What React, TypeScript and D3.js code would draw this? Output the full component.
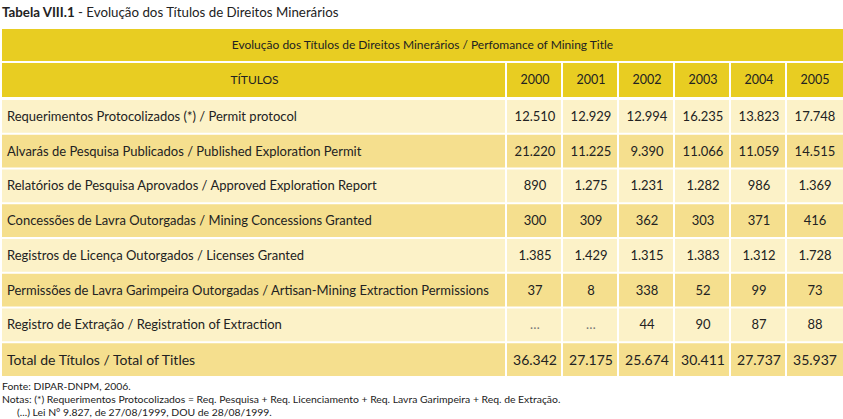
import React from "react";
import * as d3 from "d3";

const years = ["2000", "2001", "2002", "2003", "2004", "2005"];
const categories = [
  "Requerimentos Protocolizados (*) / Permit protocol",
  "Alvarás de Pesquisa Publicados / Published Exploration Permit",
  "Relatórios de Pesquisa Aprovados / Approved Exploration Report",
  "Concessões de Lavra Outorgadas / Mining Concessions Granted",
  "Registros de Licença Outorgados / Licenses Granted",
  "Permissões de Lavra Garimpeira Outorgadas / Artisan-Mining Extraction Permissions",
  "Registro de Extração / Registration of Extraction",
  "Total de Títulos / Total of Titles",
];
const permitProtocol = [12510, 12929, 12994, 16235, 13823, 17748];
const explorationPermit = [21220, 11225, 9390, 11066, 11059, 14515];
const explorationReport = [890, 1275, 1231, 1282, 986, 1369];
const miningConcessions = [300, 309, 362, 303, 371, 416];
const licenses = [1385, 1429, 1315, 1383, 1312, 1728];
const artisanPermissions = [37, 8, 338, 52, 99, 73];
const extraction = [null, null, 44, 90, 87, 88];
const totals = [36342, 27175, 25674, 30411, 27737, 35937];
const seriesRows = [
  permitProtocol,
  explorationPermit,
  explorationReport,
  miningConcessions,
  licenses,
  artisanPermissions,
  extraction,
  totals,
];

const titleBold = "Tabela VIII.1";
const titleRest = " - Evolução dos Títulos de Direitos Minerários";
const headerTitle = "Evolução dos Títulos de Direitos Minerários / Perfomance of Mining Title";
const headerFirst = "TÍTULOS";
const notes = [
  "Fonte: DIPAR-DNPM, 2006.",
  "Notas: (*) Requerimentos Protocolizados = Req. Pesquisa + Req. Licenciamento + Req. Lavra Garimpeira + Req. de Extração.",
  "(...) Lei N° 9.827, de 27/08/1999, DOU de 28/08/1999.",
];

const W = 843;
const H = 419;
const FONT = "Lato, 'Open Sans', sans-serif";
const HEAD = "#e8cd22";
const LIGHT = "#fcf2c8";
const DARK = "#f5df8e";

const locale = d3.formatLocale({
  decimal: ",",
  thousands: ".",
  grouping: [3],
  currency: ["R$", ""],
});
const fmt = locale.format(",d");

export default function App() {
  const left = 2;
  const right = W;
  const firstColRight = 507;
  const gap = 2;

  const x = d3.scaleBand<string>().domain(years).range([firstColRight, right]).paddingInner(0);
  const y = d3
    .scaleBand<string>()
    .domain(categories)
    .range([98, 376])
    .paddingInner(0);

  const head1 = { y0: 29, y1: 61 };
  const head2 = { y0: 63, y1: 97 };

  return (
    <svg
      width={W}
      height={H}
      style={{ position: "absolute", left: 0, top: 0, background: "#fff" }}
      fontFamily={FONT}
    >
      <text x={2} y={17} fontSize={13.3} fill="#222">
        <tspan fontWeight="bold">{titleBold}</tspan>
        <tspan>{titleRest}</tspan>
      </text>

      <rect x={left} y={head1.y0} width={right - left} height={head1.y1 - head1.y0} fill={HEAD} />
      <text
        x={(left + right) / 2}
        y={(head1.y0 + head1.y1) / 2}
        dy="0.35em"
        textAnchor="middle"
        fontSize={12}
        fill="#222"
      >
        {headerTitle}
      </text>

      <rect x={left} y={head2.y0} width={firstColRight - left - gap} height={head2.y1 - head2.y0} fill={HEAD} />
      <text
        x={(left + firstColRight) / 2}
        y={(head2.y0 + head2.y1) / 2}
        dy="0.35em"
        textAnchor="middle"
        fontSize={12}
        fill="#222"
      >
        {headerFirst}
      </text>
      {years.map((yr, j) => (
        <g key={yr}>
          <rect
            x={x(yr)!}
            y={head2.y0}
            width={x.bandwidth() - (j < years.length - 1 ? gap : 0)}
            height={head2.y1 - head2.y0}
            fill={HEAD}
          />
          <text
            x={x(yr)! + x.bandwidth() / 2}
            y={(head2.y0 + head2.y1) / 2}
            dy="0.35em"
            textAnchor="middle"
            fontSize={12.5}
            fill="#222"
          >
            {yr}
          </text>
        </g>
      ))}

      {categories.map((cat, i) => {
        const fill = i % 2 === 0 ? LIGHT : DARK;
        const y0 = y(cat)! + gap;
        const h = y.bandwidth() - gap;
        const cy = y0 + h / 2;
        const isTotal = i === categories.length - 1;
        return (
          <g key={cat}>
            <rect x={left} y={y0} width={firstColRight - left - gap} height={h} fill={fill} />
            <text x={7} y={cy} dy="0.35em" fontSize={isTotal ? 14 : 13} fill="#222">
              {cat}
            </text>
            {years.map((yr, j) => {
              const v = seriesRows[i][j];
              return (
                <g key={yr}>
                  <rect
                    x={x(yr)!}
                    y={y0}
                    width={x.bandwidth() - (j < years.length - 1 ? gap : 0)}
                    height={h}
                    fill={fill}
                  />
                  <text
                    x={x(yr)! + x.bandwidth() / 2}
                    y={cy}
                    dy="0.35em"
                    textAnchor="middle"
                    fontSize={isTotal ? 14 : 13}
                    fill={v == null ? "#777" : "#222"}
                  >
                    {v == null ? "…" : fmt(v)}
                  </text>
                </g>
              );
            })}
          </g>
        );
      })}

      <text x={2} y={390} fontSize={10.4} fill="#222">{notes[0]}</text>
      <text x={2} y={403} fontSize={10.4} fill="#222">{notes[1]}</text>
      <text x={17} y={416} fontSize={10.4} fill="#222">{notes[2]}</text>
    </svg>
  );
}
